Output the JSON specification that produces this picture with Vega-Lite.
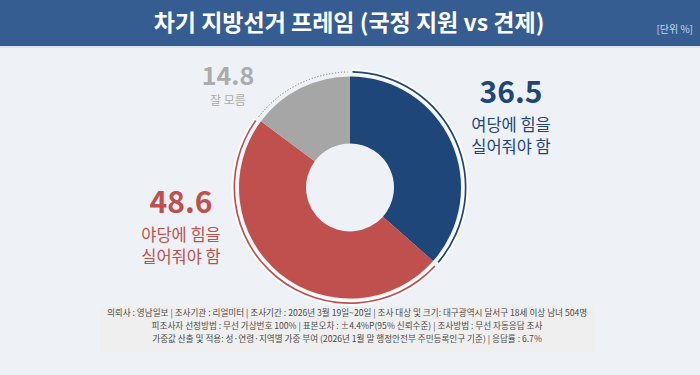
{
  "$schema": "https://vega.github.io/schema/vega-lite/v6.json",
  "width": 700,
  "height": 375,
  "autosize": {"type": "fit", "contains": "padding"},
  "padding": 0,
  "background": "#eef1f6",
  "config": {"view": {"stroke": null}, "font": "Noto Sans CJK KR"},
  "datasets": {
    "poll": [
      {"category": "여당에 힘을 실어줘야 함", "value": 36.5, "order": 1},
      {"category": "야당에 힘을 실어줘야 함", "value": 48.6, "order": 2},
      {"category": "잘 모름", "value": 14.8, "order": 3}
    ],
    "footer": [
      {"line": 1, "text": "의뢰사 : 영남일보 | 조사기관 : 리얼미터  | 조사기간 : 2026년 3월 19일~20일 | 조사 대상 및 크기: 대구광역시 달서구 18세 이상 남녀 504명"},
      {"line": 2, "text": "피조사자 선정방법 : 무선 가상번호 100% | 표본오차 : ±4.4%P(95% 신뢰수준) | 조사방법 : 무선 자동응답 조사"},
      {"line": 3, "text": "가중값 산출 및 적용: 성·연령·지역별 가중 부여 (2026년 1월 말 행정안전부 주민등록인구 기준) | 응답률 : 6.7%"}
    ]
  },
  "layer": [
    {
      "data": {"values": [{}]},
      "mark": {"type": "rect", "fill": "#dde4ee"},
      "encoding": {"x": {"value": 0}, "x2": {"value": 700}, "y": {"value": 0}, "y2": {"value": 48}}
    },
    {
      "data": {"values": [{}]},
      "mark": {"type": "rect", "fill": "#365d91"},
      "encoding": {"x": {"value": 0}, "x2": {"value": 700}, "y": {"value": 0}, "y2": {"value": 46}}
    },
    {
      "data": {"values": [{"t": "차기 지방선거 프레임 (국정 지원 vs 견제)"}]},
      "mark": {"type": "text", "color": "white", "fontSize": 23, "fontWeight": "bold", "align": "center", "baseline": "middle"},
      "encoding": {"text": {"field": "t"}, "x": {"value": 349}, "y": {"value": 24}}
    },
    {
      "data": {"values": [{"t": "[단위 %]"}]},
      "mark": {"type": "text", "color": "#c9d5e6", "fontSize": 10, "align": "right", "baseline": "middle"},
      "encoding": {"text": {"field": "t"}, "x": {"value": 693}, "y": {"value": 30}}
    },
    {
      "data": {"values": [{}]},
      "mark": {"type": "rect", "fill": "#efefef"},
      "encoding": {"x": {"value": 100}, "x2": {"value": 594}, "y": {"value": 306}, "y2": {"value": 352}}
    },
    {
      "data": {"name": "footer"},
      "mark": {"type": "text", "color": "#4a4a4a", "fontSize": 8.6, "align": "center", "baseline": "middle"},
      "encoding": {
        "text": {"field": "text"},
        "x": {"value": 347},
        "y": {"field": "line", "type": "quantitative", "scale": {"domain": [1, 3], "range": [313, 339]}, "axis": null}
      }
    },
    {
      "data": {"name": "poll"},
      "mark": {"type": "arc", "radius": 111, "radius2": 44},
      "encoding": {
        "theta": {"field": "value", "type": "quantitative", "stack": true, "scale": {"domain": [0, 99.9]}},
        "order": {"field": "order"},
        "color": {"field": "category", "type": "nominal", "legend": null,
          "scale": {"domain": ["여당에 힘을 실어줘야 함", "야당에 힘을 실어줘야 함", "잘 모름"], "range": ["#1f4679", "#c0504d", "#a6a6a6"]}}
      }
    },
    {
      "data": {"name": "poll"},
      "transform": [
        {"stack": "value", "groupby": [], "sort": [{"field": "order"}], "as": ["v0", "v1"]},
        {"filter": "datum.order < 3"}
      ],
      "mark": {"type": "arc", "radius": 118.5, "radius2": 112.5, "fill": "white", "padAngle": 0.025},
      "encoding": {
        "theta": {"field": "v0", "type": "quantitative", "stack": null, "scale": {"domain": [0, 99.9]}},
        "theta2": {"field": "v1"}
      }
    },
    {
      "data": {"name": "poll"},
      "transform": [
        {"stack": "value", "groupby": [], "sort": [{"field": "order"}], "as": ["v0", "v1"]},
        {"filter": "datum.order < 3"}
      ],
      "mark": {"type": "arc", "radius": 116.5, "radius2": 114.8, "padAngle": 0.03},
      "encoding": {
        "theta": {"field": "v0", "type": "quantitative", "stack": null, "scale": {"domain": [0, 99.9]}},
        "theta2": {"field": "v1"},
        "color": {"field": "category", "type": "nominal", "legend": null}
      }
    },
    {
      "data": {"name": "poll"},
      "transform": [
        {"stack": "value", "groupby": [], "sort": [{"field": "order"}], "as": ["v0", "v1"]},
        {"filter": "datum.order == 3"}
      ],
      "mark": {"type": "arc", "radius": 115.5, "radius2": 115.5, "filled": false, "stroke": "#9a9a9a", "strokeWidth": 1, "strokeDash": [1, 2], "padAngle": 0.03},
      "encoding": {
        "theta": {"field": "v0", "type": "quantitative", "stack": null, "scale": {"domain": [0, 99.9]}},
        "theta2": {"field": "v1"}
      }
    },
    {
      "data": {"name": "poll"},
      "transform": [{"filter": "datum.order == 1"}],
      "layer": [
        {"mark": {"type": "text", "color": "#1f4679", "fontSize": 30, "fontWeight": "bold", "align": "center", "baseline": "middle"},
         "encoding": {"text": {"field": "value", "format": ".1f"}, "x": {"value": 511}, "y": {"value": 94}}},
        {"mark": {"type": "text", "color": "#1f4679", "fontSize": 16.5, "align": "center", "baseline": "middle"},
         "encoding": {"text": {"value": "여당에 힘을"}, "x": {"value": 511}, "y": {"value": 126}}},
        {"mark": {"type": "text", "color": "#1f4679", "fontSize": 16.5, "align": "center", "baseline": "middle"},
         "encoding": {"text": {"value": "실어줘야 함"}, "x": {"value": 511}, "y": {"value": 148}}}
      ]
    },
    {
      "data": {"name": "poll"},
      "transform": [{"filter": "datum.order == 2"}],
      "layer": [
        {"mark": {"type": "text", "color": "#c0504d", "fontSize": 30, "fontWeight": "bold", "align": "center", "baseline": "middle"},
         "encoding": {"text": {"field": "value", "format": ".1f"}, "x": {"value": 181}, "y": {"value": 204}}},
        {"mark": {"type": "text", "color": "#c0504d", "fontSize": 16.5, "align": "center", "baseline": "middle"},
         "encoding": {"text": {"value": "야당에 힘을"}, "x": {"value": 181}, "y": {"value": 236}}},
        {"mark": {"type": "text", "color": "#c0504d", "fontSize": 16.5, "align": "center", "baseline": "middle"},
         "encoding": {"text": {"value": "실어줘야 함"}, "x": {"value": 181}, "y": {"value": 258}}}
      ]
    },
    {
      "data": {"name": "poll"},
      "transform": [{"filter": "datum.order == 3"}],
      "layer": [
        {"mark": {"type": "text", "color": "#ababab", "fontSize": 25, "fontWeight": "bold", "align": "center", "baseline": "middle"},
         "encoding": {"text": {"field": "value", "format": ".1f"}, "x": {"value": 228}, "y": {"value": 77}}},
        {"mark": {"type": "text", "color": "#ababab", "fontSize": 12, "align": "center", "baseline": "middle"},
         "encoding": {"text": {"value": "잘 모름"}, "x": {"value": 228}, "y": {"value": 101}}}
      ]
    }
  ]
}
